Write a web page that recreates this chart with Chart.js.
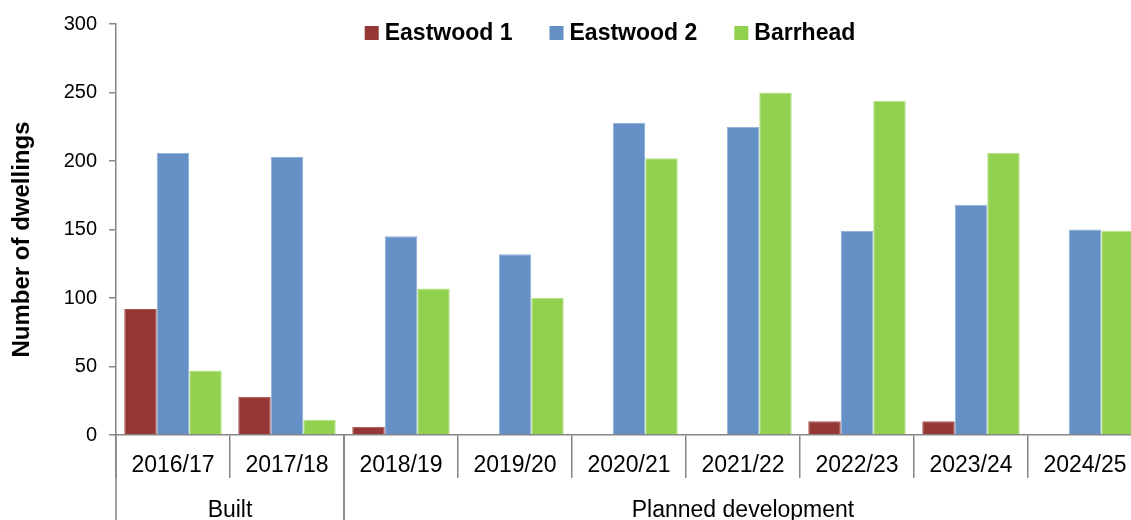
<!DOCTYPE html>
<html>
<head>
<meta charset="utf-8">
<title>Housing completions by area</title>
<script src="https://cdn.jsdelivr.net/npm/chart.js@4/dist/chart.umd.min.js"></script>
<style>
  html, body { margin: 0; padding: 0; background: #fff; overflow: hidden; }
  #wrap { width: 1131px; height: 520px; overflow: hidden; }
</style>
</head>
<body>
<div id="wrap"><canvas id="dwellingsChart" width="1142" height="520"></canvas></div>
<script>
const years = ["2016/17", "2017/18", "2018/19", "2019/20", "2020/21", "2021/22", "2022/23", "2023/24", "2024/25"];
const eastwood1 = [92, 28, 6, 0, 0, 0, 10, 10, 0];
const eastwood2 = [206, 203, 145, 132, 228, 225, 149, 168, 150];
const barrhead = [47, 11, 107, 100, 202, 250, 244, 206, 149];
const yTicks = [0, 50, 100, 150, 200, 250, 300];
const groupNames = ["Built", "Planned development"];
const groupSizes = [2, 7];

const axisGrey = "#868686";
const fontFamily = '"Liberation Sans", Arial, sans-serif';
Chart.defaults.font.family = fontFamily;
Chart.defaults.color = "#000";

// group captions under the year labels, with separators down to the bottom edge
const groupLabels = {
    id: "groupLabels",
    afterDraw(chart) {
        const x = chart.scales.x;
        const ctx = chart.ctx;
        const half = (x.getPixelForValue(1) - x.getPixelForValue(0)) / 2;
        let first = 0;
        ctx.save();
        ctx.strokeStyle = axisGrey;
        ctx.lineWidth = 1.5;
        ctx.fillStyle = "#000";
        ctx.font = "23px " + fontFamily;
        ctx.textAlign = "center";
        ctx.textBaseline = "alphabetic";
        groupNames.forEach((name, i) => {
            const last = first + groupSizes[i] - 1;
            const left = x.getPixelForValue(first) - half;
            const right = x.getPixelForValue(last) + half;
            [left, right].forEach(px => {
                ctx.beginPath();
                ctx.moveTo(px, x.top);
                ctx.lineTo(px, chart.height);
                ctx.stroke();
            });
            ctx.fillText(name, (left + right) / 2, x.top + 82);
            first = last + 1;
        });
        ctx.restore();
    }
};

// one-row legend laid over the top of the plot area
const overlayLegend = {
    id: "overlayLegend",
    afterDraw(chart, args, opts) {
        const ctx = chart.ctx;
        const sets = chart.data.datasets;
        ctx.save();
        ctx.font = "bold " + opts.fontSize + "px " + fontFamily;
        const widths = sets.map(ds => opts.box + opts.gap + ctx.measureText(ds.label).width);
        const total = widths.reduce((a, b) => a + b, 0) + opts.spacing * (sets.length - 1);
        let cx = opts.centerX - total / 2;
        ctx.textBaseline = "middle";
        ctx.textAlign = "left";
        sets.forEach((ds, i) => {
            ctx.fillStyle = ds.backgroundColor;
            ctx.fillRect(cx, opts.centerY - opts.box / 2, opts.box, opts.box);
            ctx.fillStyle = "#000";
            ctx.fillText(ds.label, cx + opts.box + opts.gap, opts.centerY + 1);
            cx += widths[i] + opts.spacing;
        });
        ctx.restore();
    }
};

new Chart(document.getElementById("dwellingsChart"), {
    type: "bar",
    data: {
        labels: years,
        datasets: [{
            label: "Eastwood 1",
            data: eastwood1,
            backgroundColor: "#953735",
            borderColor: "#a9514f",
            borderWidth: 1,
        }, {
            label: "Eastwood 2",
            data: eastwood2,
            backgroundColor: "#6590c6",
            borderColor: "#8fb0da",
            borderWidth: 1,
        }, {
            label: "Barrhead",
            data: barrhead,
            backgroundColor: "#92d050",
            borderColor: "#b4e285",
            borderWidth: 1,
        }],
    },
    options: {
        responsive: false,
        animation: false,
        categoryPercentage: 0.855,
        barPercentage: 1.0,
        layout: { padding: { top: 23, right: 0, bottom: 0, left: 0 } },
        plugins: {
            legend: { display: false },
            tooltip: { enabled: false },
            overlayLegend: { centerX: 610, centerY: 33, box: 14, gap: 6, spacing: 37, fontSize: 23 },
        },
        scales: {
            x: {
                grid: {
                    drawOnChartArea: false,
                    drawTicks: true,
                    tickLength: 43,
                    color: axisGrey,
                    lineWidth: 1.5,
                    offset: true,
                },
                border: { color: axisGrey, width: 1.5 },
                ticks: {
                    font: { size: 23 },
                    color: "#000",
                    padding: -26,
                    maxRotation: 0,
                    autoSkip: false,
                },
                afterFit(scale) { scale.height = 85; },
            },
            y: {
                min: 0,
                max: 300,
                afterBuildTicks(scale) { scale.ticks = yTicks.map(v => ({ value: v })); },
                grid: {
                    drawOnChartArea: false,
                    tickLength: 7,
                    color: axisGrey,
                    lineWidth: 1.5,
                },
                border: { color: axisGrey, width: 1.5 },
                ticks: {
                    font: { size: 20 },
                    color: "#000",
                    padding: 12,
                },
                title: {
                    display: true,
                    // trailing spaces push the caption a little below the axis middle
                    text: "Number of dwellings   ",
                    font: { size: 24, weight: "bold" },
                    color: "#000",
                    padding: { top: 8, bottom: 0 },
                },
                afterFit(scale) { scale.width = 116; },
            },
        },
    },
    plugins: [groupLabels, overlayLegend],
});
</script>
</body>
</html>
